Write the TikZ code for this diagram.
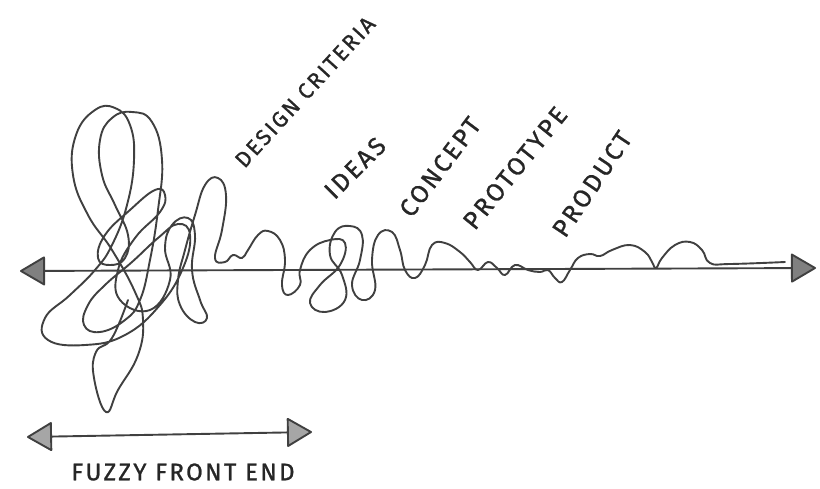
\documentclass[tikz,border=0pt]{standalone}
\usepackage{fontspec}
\newfontfamily\hand[FakeBold=1,LetterSpace=10]{Fira Sans}
\usetikzlibrary{arrows.meta}
\begin{document}
\begin{tikzpicture}[x=1pt,y=-1pt,
  squig/.style={line width=1.9pt,draw=black!75,line join=round,line cap=round},
  axisline/.style={line width=1.9pt,draw=black!75},
  lab/.style={font=\hand\fontsize{25}{25}\selectfont,inner sep=0pt,text=black!85}]
\useasboundingbox[fill=white] (0,0) rectangle (820,488);

% axes
\coordinate (axL) at (20,271);
\coordinate (axR) at (816,268);
\draw[axisline,{Triangle[length=26pt,width=30pt,line width=1.9pt,fill=black!50,round]}-{Triangle[length=26pt,width=30pt,line width=1.9pt,fill=black!50,round]}] (axL) -- (axR);

\coordinate (ffL) at (27,437);
\coordinate (ffR) at (312,432);
\draw[axisline,{Triangle[length=26pt,width=30pt,line width=1.9pt,fill=black!35,round]}-{Triangle[length=26pt,width=30pt,line width=1.9pt,fill=black!35,round]}] (ffL) -- (ffR);

% squiggle
\draw[squig] plot[smooth,tension=0.75] coordinates {
 (128,300) (112,338) (96,352) (94,378) (106,412) (118,390) (138,355) (143,320) (135,292)
 (112,250) (88,215) (73,175) (76,135) (95,110) (115,108) (130,125) (134,160) (127,205) (112,245) (95,270)
 (70,295) (45,318) (48,340) (85,345) (125,335) (160,305) (183,268) (190,235) (178,224) (158,238) (132,262) (105,285)
 (88,305) (84,325) (100,332) (125,320) (140,300)
 (150,260) (158,210) (162,160) (152,122) (132,112) (112,118) (100,140) (102,175) (115,205) (128,235) (125,258)
 (110,265) (98,258) (105,235) (130,210) (155,190) (165,195) (160,212) (135,238) (118,270) (120,300) (150,310)
 (170,280) (165,248) (172,225) (188,218) (195,235) (192,270) (200,300) (207,318) (195,322) (180,305) (178,280)
 (185,250) (195,215) (205,185) (218,178) (226,195) (222,230) (215,258) (225,262) (233,255) (242,258) (248,250)
 (258,235) (268,231) (280,240) (285,260) (282,285) (288,295) (300,285)
 (300,270) (310,250) (330,240) (345,243) (340,265) (320,285) (310,303) (325,312) (345,300) (342,275) (330,255)
 (335,232) (350,226) (362,235) (360,260) (352,285) (362,300) (375,290) (372,260) (378,235) (392,232) (400,250)
 (405,270) (415,278) (425,265) (432,245) (445,243) (460,252) (470,262) (478,270) (488,262) (497,268) (505,275)
 (515,265) (528,270) (540,272) (548,270) (555,278) (562,282) (570,270) (578,258) (590,254) (600,256) (612,250)
 (630,245) (645,252) (652,262) (656,268) (662,258) (675,245) (690,242) (702,250) (710,263) (730,264) (785,262)
};

% labels
\node[lab,rotate=47.5,font=\hand\fontsize{22}{22}\selectfont] (dc) at (305,92) {DESIGN CRITERIA};
\node[lab,rotate=45] (id) at (355,168) {IDEAS};
\node[lab,rotate=53] (co) at (440,167) {CONCEPT};
\node[lab,rotate=51] (pt) at (515,168) {PROTOTYPE};
\node[lab,rotate=56] (pr) at (592,184) {PRODUCT};
\node[lab,font=\hand\fontsize{24}{24}\selectfont] (ff) at (183,472) {FUZZY FRONT END};
\end{tikzpicture}
\end{document}
